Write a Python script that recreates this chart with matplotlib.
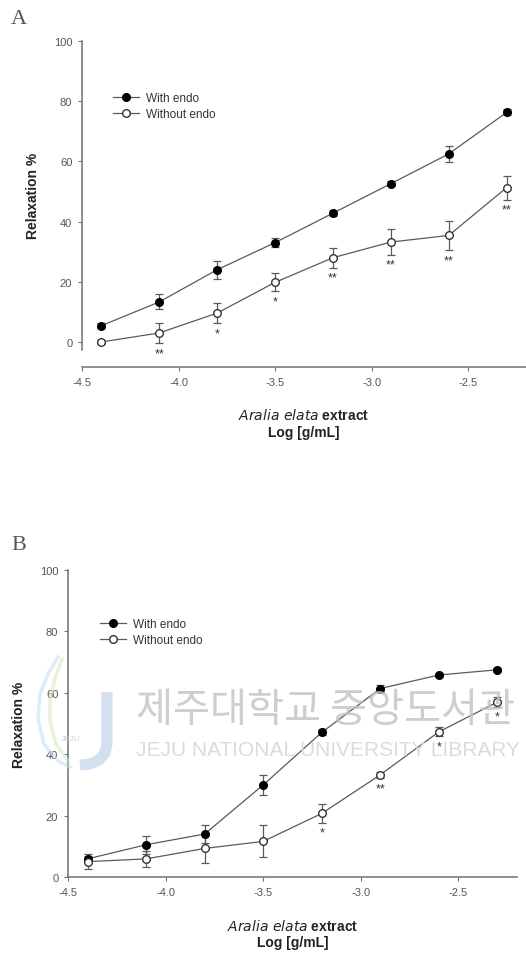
import matplotlib
matplotlib.use("Agg")
import matplotlib.pyplot as plt
from matplotlib.lines import Line2D
import numpy as np

plt.rcParams['font.family'] = ['Liberation Sans', 'DejaVu Sans']

log_conc = [-4.4, -4.1, -3.8, -3.5, -3.2, -2.9, -2.6, -2.3]

# panel A
a_with = [5.4, 13.3, 24.0, 33.0, 42.8, 52.6, 62.5, 76.3]
a_with_err = [0.8, 2.5, 3.0, 1.5, 1.0, 0.8, 2.7, 1.0]
a_without = [0.0, 3.0, 9.6, 19.8, 28.0, 33.2, 35.4, 51.3]
a_without_err = [0.8, 3.4, 3.3, 3.0, 3.3, 4.2, 4.8, 4.0]
a_stars = ["", "**", "*", "*", "**", "**", "**", "**"]

# panel B
b_with = [5.9, 10.5, 14.0, 30.0, 47.1, 61.4, 65.8, 67.5]
b_with_err = [1.0, 3.0, 3.0, 3.3, 1.0, 1.0, 0.5, 0.5]
b_without = [5.0, 5.9, 9.3, 11.6, 20.7, 33.3, 47.3, 57.0]
b_without_err = [2.5, 2.5, 4.7, 5.2, 3.0, 1.0, 1.5, 1.5]
b_stars = ["", "", "", "", "*", "**", "*", "*"]

yticks = [0, 20, 40, 60, 80, 100]
xticks = [-4.5, -4.0, -3.5, -3.0, -2.5]
xticklabels = ["-4.5", "-4.0", "-3.5", "-3.0", "-2.5"]

fig = plt.figure(figsize=(5.26, 9.54), dpi=100)

W, H = 526.0, 954.0
ax_a = fig.add_axes([82 / W, 1 - 350.5 / H, 444 / W, 308.5 / H])
ax_b = fig.add_axes([68 / W, 1 - 878 / H, 449 / W, 307 / H])

grey = '#5a5a5a'


def draw_panel(ax, w, we, wo, woe, stars, ylo, offset, leg_anchor):
    ax.errorbar(log_conc, w, yerr=we, color=grey, lw=0.9, ecolor=grey, elinewidth=0.9,
                capsize=3, capthick=0.9, marker='o', ms=5.5, mfc='black', mec='black',
                zorder=3)
    ax.errorbar(log_conc, wo, yerr=woe, color=grey, lw=0.9, ecolor=grey, elinewidth=0.9,
                capsize=3, capthick=0.9, marker='o', ms=5.5, mfc='white', mec='#333333',
                zorder=3)
    for x, y, e, s in zip(log_conc, wo, woe, stars):
        if s:
            ax.annotate(s, (x, y - e), xytext=(0, -3), textcoords='offset points',
                        ha='center', va='top', fontsize=9, color='#333333')
    ax.set_xlim(-4.5, -2.2)
    ax.set_ylim(ylo, 100)
    ax.set_yticks(yticks)
    ax.set_xticks(xticks)
    ax.set_xticklabels(xticklabels)
    for side in ['top', 'right']:
        ax.spines[side].set_visible(False)
    for side in ['left', 'bottom']:
        ax.spines[side].set_color('#707070')
        ax.spines[side].set_linewidth(1.1)
    ax.spines['bottom'].set_position(('outward', offset))
    ax.tick_params(direction='out', length=3, width=0.8, color='#707070',
                   labelsize=8, labelcolor='#555555', pad=4)
    ax.set_ylabel('Relaxation %', fontsize=10, fontweight='bold', color='#222222', labelpad=10)
    ax.set_xlabel(r'$\mathbf{\mathit{Aralia\ elata}}$ extract' + '\nLog [g/mL]',
                  fontsize=10, fontweight='bold', color='#222222', labelpad=15, linespacing=1.2)
    handles = [Line2D([], [], color=grey, lw=0.9, marker='o', ms=5.5, mfc='black', mec='black'),
               Line2D([], [], color=grey, lw=0.9, marker='o', ms=5.5, mfc='white', mec='#333333')]
    ax.legend(handles, ['With endo', 'Without endo'], loc='upper left', bbox_to_anchor=leg_anchor,
              frameon=False, fontsize=8.5, handlelength=2.2, handletextpad=0.6,
              labelspacing=0.35, borderaxespad=0, labelcolor='#333333')


draw_panel(ax_a, a_with, a_with_err, a_without, a_without_err, a_stars, -2.5, 12.5, (0.06, 0.851))
draw_panel(ax_b, b_with, b_with_err, b_without, b_without_err, b_stars, 0, 0, (0.06, 0.858))

fig.text(11 / W, 1 - 20 / H, 'A', family='Liberation Serif', fontsize=16, va='center', ha='left',
         color='#555555')
fig.text(11 / W, 1 - 545 / H, 'B', family='Liberation Serif', fontsize=16, va='center', ha='left',
         color='#555555')

# library watermark (logo strokes + text)
px = lambda xs: [v / W for v in xs]
py = lambda ys: [1 - v / H for v in ys]
fig.add_artist(Line2D(px([107, 107, 105, 99, 90, 80]), py([693, 745, 754, 761, 765, 766]),
                      color='#b8cbe6', lw=8, alpha=0.6, solid_capstyle='butt', zorder=9))
fig.add_artist(Line2D(px([58, 48, 40, 38, 44, 58, 70]), py([658, 675, 695, 720, 745, 762, 768]),
                      color='#c2deee', lw=2.5, alpha=0.55, zorder=9))
fig.add_artist(Line2D(px([62, 55, 50, 50, 56, 68]), py([660, 680, 700, 722, 745, 762]),
                      color='#d3e8c4', lw=2.5, alpha=0.55, zorder=9))
fig.text(71 / W, 1 - 740 / H, 'JEJU', fontsize=6, ha='center', va='center', color='#cccccc',
         alpha=0.9, zorder=10)
fig.text(325 / W, 1 - 711 / H, '제주대학교 중앙도서관', family=['Noto Sans CJK KR', 'DejaVu Sans'],
         fontsize=29, ha='center', va='center', color='#c2c2c2', alpha=0.8, zorder=10)
fig.text(328 / W, 1 - 750 / H, 'JEJU NATIONAL UNIVERSITY LIBRARY', fontsize=15,
         ha='center', va='center', color='#d8d8d8', alpha=0.9, zorder=10)

fig.savefig('out.png', dpi=100)
